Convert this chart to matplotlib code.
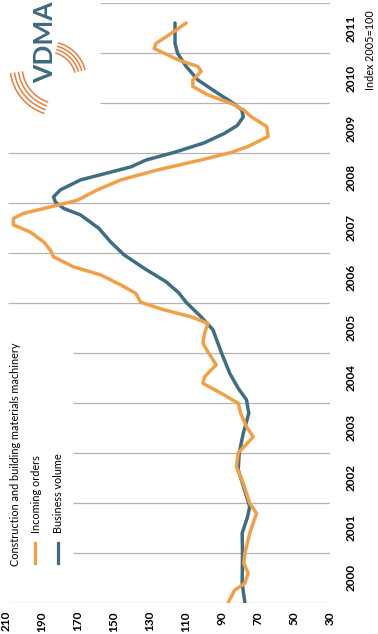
import matplotlib
matplotlib.use("Agg")
import matplotlib.pyplot as plt
from matplotlib.patches import Arc

years = list(range(2000, 2012))
value_ticks = [210, 190, 170, 150, 130, 110, 90, 70, 50, 30]

# business volume
bv_t = [2000.00, 2000.39, 2000.99, 2001.39, 2001.72, 2001.92, 2002.26, 2002.66,
        2003.00, 2003.39, 2003.79, 2004.06, 2004.29, 2004.59, 2005.01, 2005.46,
        2005.72, 2006.01, 2006.20, 2006.42, 2006.69, 2006.96, 2007.22, 2007.49,
        2007.76, 2007.89, 2008.02, 2008.12, 2008.26, 2008.46, 2008.72, 2008.86,
        2009.01, 2009.20, 2009.39, 2009.55, 2009.72, 2009.86, 2010.00, 2010.19,
        2010.46, 2010.73, 2010.99, 2011.19, 2011.60]
bv_v = [77.3, 78.8, 78.6, 78.8, 75.8, 74.6, 77.5, 81.0,
        80.4, 78.2, 75.1, 76.4, 81.0, 85.7, 90.4, 95.0,
        101.6, 109.9, 114.0, 121.0, 133.2, 144.4, 151.9, 158.4,
        168.6, 178.0, 182.6, 183.6, 179.8, 168.6, 140.7, 132.0,
        116.6, 100.0, 88.7, 81.5, 78.2, 79.0, 84.0, 92.2,
        103.4, 109.9, 114.6, 116.1, 116.1]

# incoming orders
io_t = [2000.00, 2000.25, 2000.39, 2000.59, 2000.79, 2000.99, 2001.39, 2001.79,
        2001.99, 2002.39, 2002.72, 2003.00, 2003.32, 2003.52, 2003.79, 2003.99,
        2004.19, 2004.39, 2004.52, 2004.76, 2005.00, 2005.19, 2005.39, 2005.59,
        2005.72, 2005.86, 2006.01, 2006.19, 2006.36, 2006.56, 2006.72, 2006.92,
        2007.06, 2007.22, 2007.42, 2007.56, 2007.69, 2007.79, 2007.92, 2008.05,
        2008.26, 2008.46, 2008.66, 2008.86, 2009.01, 2009.13, 2009.33, 2009.53,
        2009.72, 2009.86, 2009.99, 2010.16, 2010.33, 2010.46, 2010.63, 2010.73,
        2010.86, 2010.96, 2011.09, 2011.19, 2011.39, 2011.60]
io_v = [86.6, 83.0, 77.3, 75.5, 77.9, 77.3, 74.6, 70.8,
        74.6, 78.2, 82.0, 81.0, 72.6, 76.4, 79.6, 81.0,
        90.4, 100.6, 99.7, 93.2, 97.5, 100.6, 99.7, 97.8,
        107.1, 122.1, 135.1, 137.9, 146.3, 157.5, 172.4, 183.6,
        185.4, 189.1, 196.6, 205.9, 205.9, 200.3, 185.4, 170.5,
        159.3, 146.3, 125.8, 101.6, 84.8, 75.5, 64.3, 65.2,
        73.6, 78.0, 84.8, 97.8, 106.2, 106.2, 101.6, 103.4,
        114.3, 120.0, 127.7, 126.7, 118.3, 109.9]

ORANGE = "#F2A048"
TEAL = "#3F6E80"
LOGO_ORANGE = "#E2803E"

W, H = 378, 634
def fx(x):
    return x / W
def fy(y):
    return 1 - y / H

plt.rcParams['font.family'] = ['Lato', 'DejaVu Sans']

fig = plt.figure(figsize=(3.78, 6.34), dpi=100)
ax = fig.add_axes([fx(6), fy(602.7), fx(330) - fx(6), fy(3) - fy(602.7)])
ax.set_xlim(210, 30)
ax.set_ylim(2000, 2012)
for s in ax.spines.values():
    s.set_visible(False)

# grid lines, cut short where legend and logo sit
grid_start = [209, 172.8, 172.8, 172.8, 172.8, 172.8, 209, 209, 209, 209, 157.8, 157.8, 157.8]
ax.hlines(list(range(2000, 2013)), grid_start, 30, color="#B4B4B4", lw=0.9, zorder=1)

ax.plot(io_v, io_t, color=ORANGE, lw=2.5, solid_joinstyle="round", solid_capstyle="round", zorder=3)
ax.plot(bv_v, bv_t, color=TEAL, lw=2.5, solid_joinstyle="round", solid_capstyle="round", zorder=2)

ax.set_xticks(value_ticks)
ax.set_xticklabels([str(v) for v in value_ticks], rotation=90, fontsize=8.5,
                   fontweight="bold", va="top", ha="center")
ax.yaxis.tick_right()
ax.set_yticks([y + 0.5 for y in years])
ax.set_yticklabels([str(y) for y in years], rotation=90, fontsize=8.5,
                   fontweight="bold", va="center", ha="left")
ax.tick_params(axis="both", length=0)
ax.tick_params(axis="x", pad=6)
ax.tick_params(axis="y", pad=11)

fig.text(fx(371), fy(50), "Index 2005=100", rotation=90, fontsize=7.8,
         ha="center", va="center")

# legend
fig.text(fx(16), fy(566), "Construction and building materials machinery",
         rotation=90, fontsize=7.8, ha="center", va="bottom")
fig.text(fx(37), fy(533), "Incoming orders", rotation=90, fontsize=7.8,
         ha="center", va="bottom")
fig.text(fx(58), fy(533), "Business volume", rotation=90, fontsize=7.8,
         ha="center", va="bottom")
fig.add_artist(plt.Line2D([fx(35), fx(35)], [fy(543), fy(563)], color=ORANGE, lw=2.3,
                          transform=fig.transFigure))
fig.add_artist(plt.Line2D([fx(58), fx(58)], [fy(543), fy(563)], color=TEAL, lw=2.3,
                          transform=fig.transFigure))

# VDMA logo
fig.text(fx(45), fy(42), "VDMA", rotation=90, fontsize=19, fontweight="bold",
         color="#3C6B82", ha="center", va="center")
for r in [28, 31.5, 35, 38.5]:
    fig.add_artist(Arc((48, H - 80), 2 * r, 2 * r, theta1=15, theta2=75,
                       color=LOGO_ORANGE, lw=1.1, transform=None))
for r in [38, 42, 46, 50]:
    fig.add_artist(Arc((60, H - 66), 2 * r, 2 * r, theta1=188, theta2=252,
                       color=LOGO_ORANGE, lw=1.1, transform=None))

fig.savefig("out.png", dpi=100)
